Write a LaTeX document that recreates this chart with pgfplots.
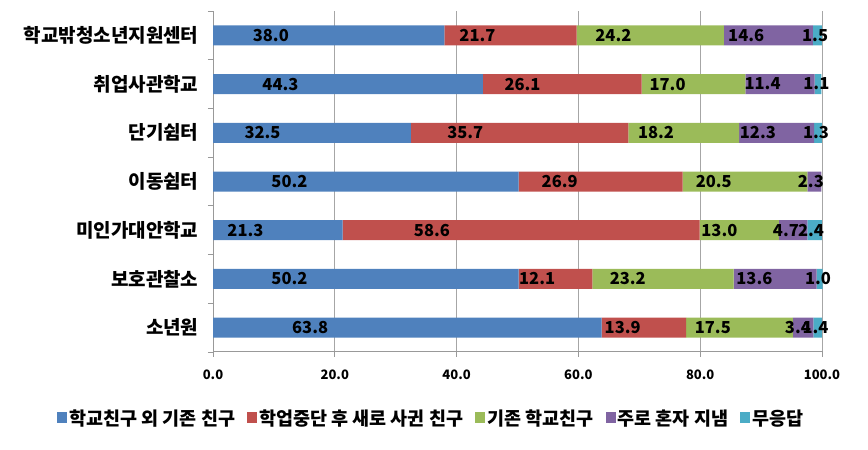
\documentclass[border=0pt]{standalone}
\usepackage{pgfplots}
\pgfplotsset{compat=1.18}
\usepackage{fontspec}
\setmainfont{Noto Sans CJK KR}
\definecolor{c1}{HTML}{4F81BD}
\definecolor{c2}{HTML}{C0504D}
\definecolor{c3}{HTML}{9BBB59}
\definecolor{c4}{HTML}{8064A2}
\definecolor{c5}{HTML}{4BACC6}
\begin{document}
\begin{tikzpicture}[x=1pt,y=1pt]
\useasboundingbox (0,0) rectangle (868,450);
\begin{axis}[
  at={(213pt,98pt)}, anchor=south west,
  scale only axis, width=609.6pt, height=341pt,
  xbar stacked, bar width=20pt,
  xmin=0, xmax=100.1, ymin=-0.5, ymax=6.5,
  ytick={0,...,6},
  yticklabels={소년원,보호관찰소,미인가대안학교,이동쉼터,단기쉼터,취업사관학교,학교밖청소년지원센터},
  minor ytick={-0.5,0.5,...,6.5},
  xtick={0,20,...,100},
  tick align=outside,
  major tick length=5pt, minor tick length=5pt,
  y tick style={draw=none},
  minor y tick style={draw=gray!80, line width=0.8pt},
  x tick style={draw=gray!80, line width=0.8pt},
  axis x line*=bottom, axis y line*=left,
  axis line style={draw=gray!80, line width=1pt, -},
  xmajorgrids, grid style={draw=gray!70, line width=0.8pt},
  xticklabel style={font=\bfseries\fontsize{13}{15}\selectfont, yshift=-9pt},
  yticklabel style={font=\bfseries\fontsize{19}{21}\selectfont, xshift=-6pt},
  /pgf/number format/assume math mode=true,
  xticklabel={\pgfmathprintnumber[fixed,fixed zerofill,precision=1]{\tick}},
  point meta=explicit symbolic,
  nodes near coords,
  visualization depends on={rawx \as \rawx},
  every node near coord/.style={anchor=center, xshift={-1.5225*\rawx}, font=\bfseries\fontsize{16.5}{18}\selectfont, text=black, inner sep=0pt},
  legend style={at={(0.358,-0.194)}, anchor=center, draw=none, fill=none,
    font=\bfseries\fontsize{18.5}{20}\selectfont, legend columns=-1,
    /tikz/every even column/.append style={column sep=10pt}},
  legend image code/.code={\fill[#1] (0pt,-5pt) rectangle (10pt,6pt);},
  legend cell align=left,
]
\addplot[fill=c1, draw=none] coordinates {(63.8,0)[63.8] (50.2,1)[50.2] (21.3,2)[21.3] (50.2,3)[50.2] (32.5,4)[32.5] (44.3,5)[44.3] (38.0,6)[38.0]};
\addplot[fill=c2, draw=none] coordinates {(13.9,0)[13.9] (12.1,1)[12.1] (58.6,2)[58.6] (26.9,3)[26.9] (35.7,4)[35.7] (26.1,5)[26.1] (21.7,6)[21.7]};
\addplot[fill=c3, draw=none] coordinates {(17.5,0)[17.5] (23.2,1)[23.2] (13.0,2)[13.0] (20.5,3)[20.5] (18.2,4)[18.2] (17.0,5)[17.0] (24.2,6)[24.2]};
\addplot[fill=c4, draw=none] coordinates {(3.4,0)[3.4] (13.6,1)[13.6] (4.7,2)[4.7] (2.3,3)[2.3] (12.3,4)[12.3] (11.4,5)[11.4] (14.6,6)[14.6]};
\addplot[fill=c5, draw=none] coordinates {(1.4,0)[1.4] (1.0,1)[1.0] (2.4,2)[2.4] (0,3)[{}] (1.3,4)[1.3] (1.1,5)[1.1] (1.5,6)[1.5]};
\legend{학교친구 외 기존 친구,학업중단 후 새로 사귄 친구,기존 학교친구,주로 혼자 지냄,무응답}
\end{axis}
\end{tikzpicture}
\end{document}
